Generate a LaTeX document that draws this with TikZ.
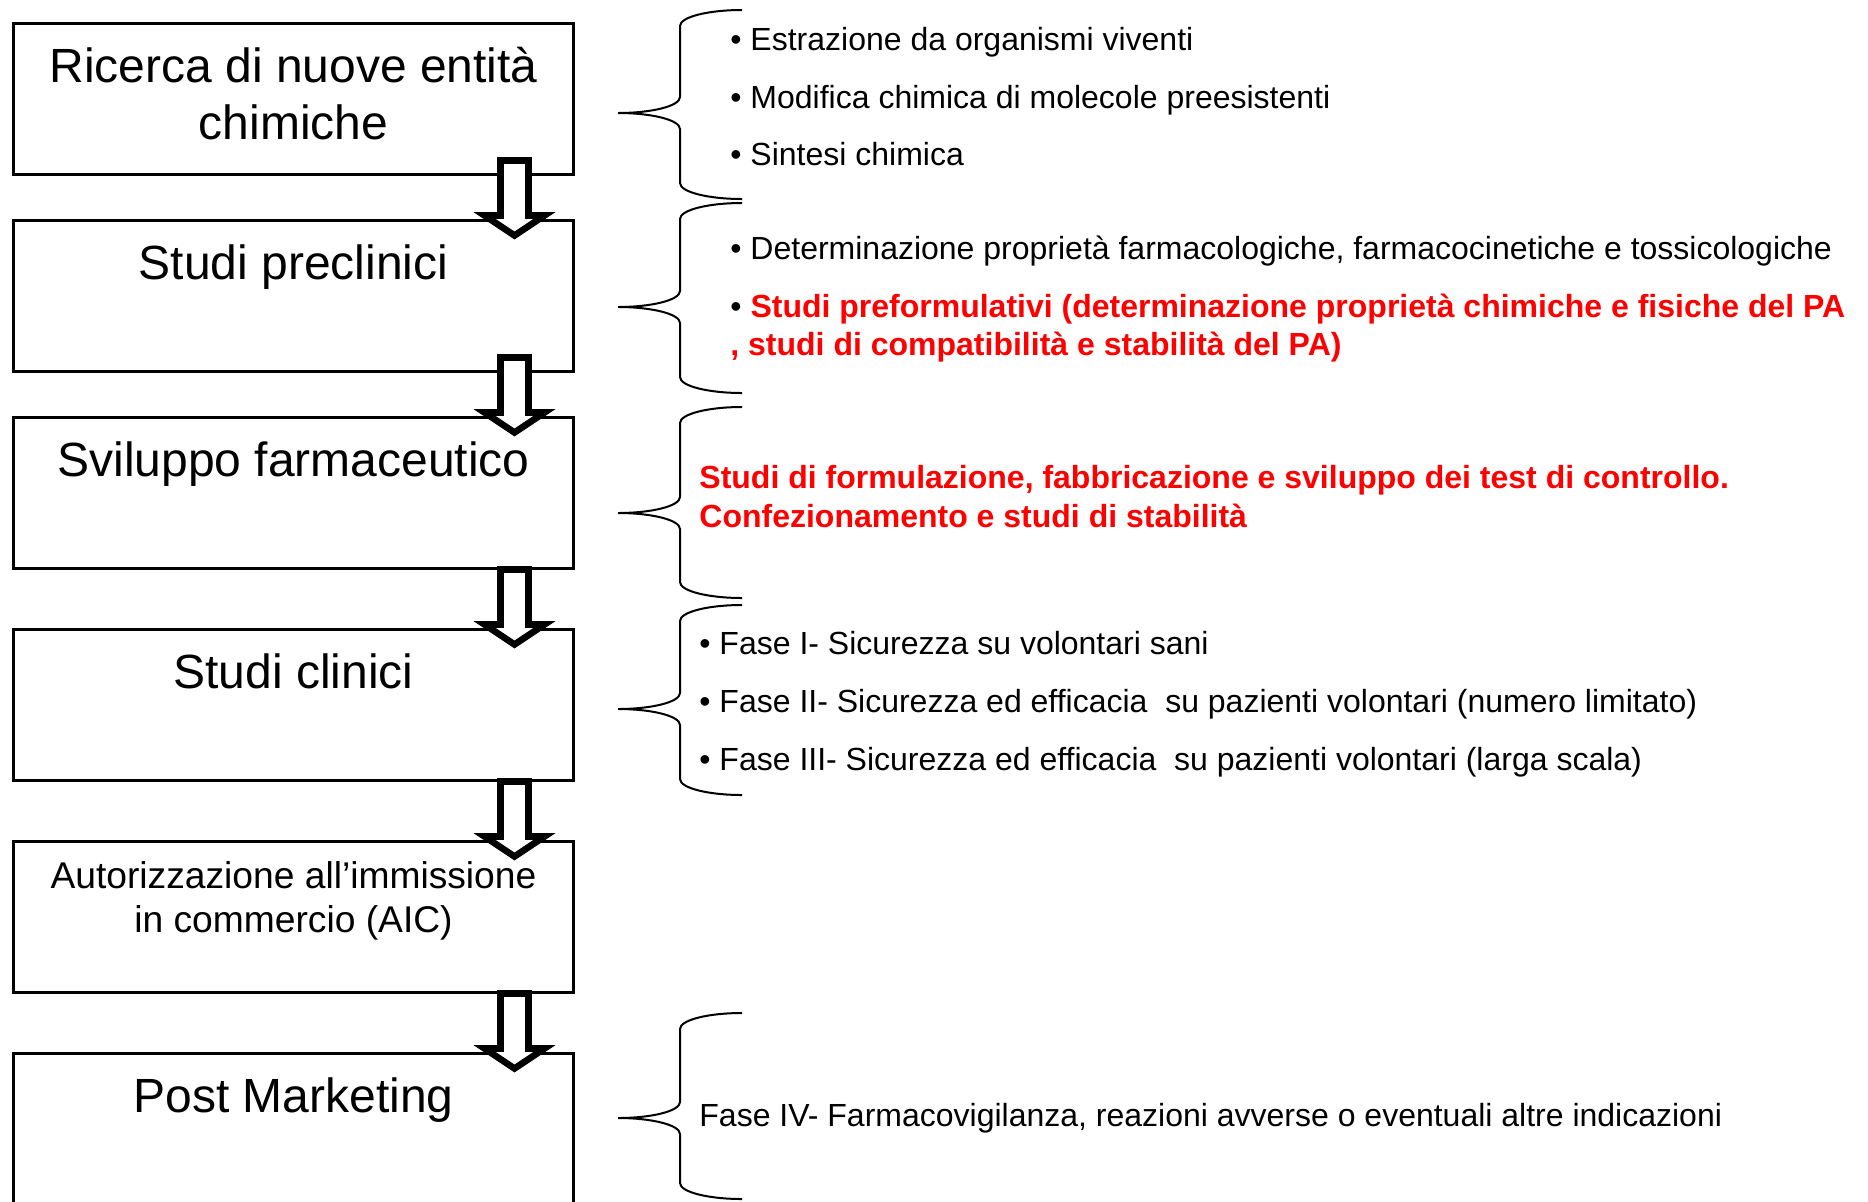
\documentclass[tikz,border=0pt]{standalone}
\usepackage{fontspec}
\setmainfont{Liberation Sans}
\usetikzlibrary{positioning,calc}

\tikzset{
  stage/.style = {draw, line width=1.8pt, minimum width=280pt, minimum height=75.5pt, inner sep=0pt, outer sep=0pt},
  boxtext/.style = {anchor=base, align=center, inner sep=0pt, font=\fontsize{24}{28.5}\selectfont},
  notes/.style = {anchor=base west, align=left, inner sep=0pt, font=\fontsize{16}{28.75}\selectfont},
  blockarrow/.style = {draw, fill=white, line width=3.3pt},
  curly/.style = {line width=1pt},
}

% graffa: estremo alto, punta, estremo basso
\newcommand{\phasebrace}[3]{%
  \draw[curly] (742,#1) .. controls (708,#1) and (680,#1+7) .. (680,#1+16)
    -- (680,#2-16) .. controls (680,#2-7) and (652,#2) .. (618,#2)
    .. controls (652,#2) and (680,#2+7) .. (680,#2+16)
    -- (680,#3-16) .. controls (680,#3-7) and (708,#3) .. (742,#3);}

\begin{document}
\begin{tikzpicture}[x=0.5pt, y=-0.5pt]
  \useasboundingbox (0,0) rectangle (1868,1201);

  % fasi
  \node[stage, anchor=north west] (r1) at (13.5,23.5) {};
  \node[stage] (r2) [below=23pt of r1] {};
  \node[stage] (r3) [below=23pt of r2] {};
  \node[stage] (r4) [below=30.5pt of r3] {};
  \node[stage] (r5) [below=30.5pt of r4] {};
  \node[stage] (r6) [below=30.5pt of r5] {};

  % (anchor base = ultima riga)
  \node[boxtext] (t1) at ($(r1.north)+(0,116)$) {Ricerca di nuove entità\\chimiche};
  \node[boxtext] (t2) at ($(r2.north)+(0,59)$) {Studi preclinici};
  \node[boxtext] (t3) at ($(r3.north)+(0,59)$) {Sviluppo farmaceutico};
  \node[boxtext] (t4) at ($(r4.north)+(0,59)$) {Studi clinici};
  \node[boxtext, font=\fontsize{18.6}{22}\selectfont] (t5) at ($(r5.north)+(0,91)$) {Autorizzazione all’immissione\\in commercio (AIC)};
  \node[boxtext] (t6) at ($(r6.north)+(0,59)$) {Post Marketing};

  % frecce
  \draw[blockarrow] ($(r1.east |- r2.north)+(-73,-60)$) -- ++(28,0) -- ++(0,55) -- ++(16,0) -- ++(-30,20) -- ++(-30,-20) -- ++(16,0) -- cycle;
  \draw[blockarrow] ($(r2.east |- r3.north)+(-73,-60)$) -- ++(28,0) -- ++(0,55) -- ++(16,0) -- ++(-30,20) -- ++(-30,-20) -- ++(16,0) -- cycle;
  \draw[blockarrow] ($(r3.east |- r4.north)+(-73,-60)$) -- ++(28,0) -- ++(0,55) -- ++(16,0) -- ++(-30,20) -- ++(-30,-20) -- ++(16,0) -- cycle;
  \draw[blockarrow] ($(r4.east |- r5.north)+(-73,-60)$) -- ++(28,0) -- ++(0,55) -- ++(16,0) -- ++(-30,20) -- ++(-30,-20) -- ++(16,0) -- cycle;
  \draw[blockarrow] ($(r5.east |- r6.north)+(-73,-60)$) -- ++(28,0) -- ++(0,55) -- ++(16,0) -- ++(-30,20) -- ++(-30,-20) -- ++(16,0) -- cycle;

  % graffe
  \phasebrace{10}{113}{199}
  \phasebrace{203}{307}{393}
  \phasebrace{407}{513}{598}
  \phasebrace{605}{709}{795}
  \phasebrace{1013}{1118}{1199}

  % descrizioni
  \node[notes] (g1) at (730,165.5) {• Estrazione da organismi viventi\\• Modifica chimica di molecole preesistenti\\• Sintesi chimica};
  \node[notes, font=\fontsize{16}{19}\selectfont] (g2) at (730,355.5) {• Determinazione proprietà farmacologiche, farmacocinetiche e tossicologiche\\[10pt]• \textcolor{red}{\bfseries Studi preformulativi (determinazione proprietà chimiche e fisiche del PA}\\\textcolor{red}{\bfseries , studi di compatibilità e stabilità del PA)}};
  \node[notes, text=red, font=\fontsize{16}{19.75}\selectfont\bfseries] (g3) at (699,527.5) {Studi di formulazione, fabbricazione e sviluppo dei test di controllo.\\Confezionamento e studi di stabilità};
  \node[notes, font=\fontsize{16}{29}\selectfont] (g4) at (699,770.5) {• Fase I- Sicurezza su volontari sani\\• Fase II- Sicurezza ed efficacia~ su pazienti volontari (numero limitato)\\• Fase III- Sicurezza ed efficacia~ su pazienti volontari (larga scala)};
  \node[notes] (g5) at (699,1126.5) {Fase IV- Farmacovigilanza, reazioni avverse o eventuali altre indicazioni};
\end{tikzpicture}
\end{document}
